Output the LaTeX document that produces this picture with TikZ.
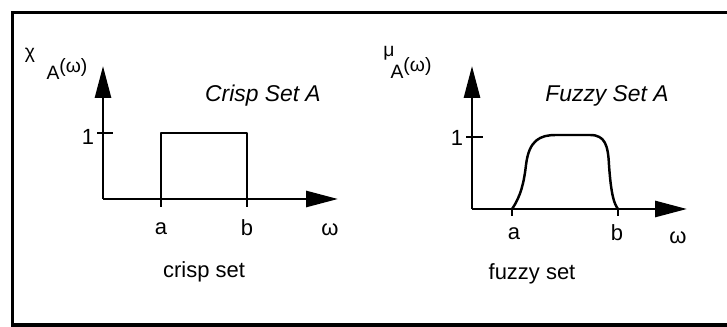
\documentclass[tikz,border=0pt]{standalone}
\usepackage{fontspec}
\setmainfont{Liberation Sans}
\usetikzlibrary{arrows.meta}

\begin{document}
\begin{tikzpicture}[
  x=0.02cm, y=-0.02cm,
  every node/.style={font=\fontsize{12.5}{14}\selectfont, inner sep=1pt},
  frame/.style={draw, line width=2.2pt},
  axis/.style={draw, line width=1.6pt, -{Triangle[length=0.64cm, width=0.32cm]}},
  member/.style={draw, line width=1.4pt, line join=round},
  tick/.style={draw, line width=1.4pt},
  title/.style={font=\fontsize{13}{15}\selectfont\itshape},
  sub/.style={font=\fontsize{11}{12}\selectfont}
]

\useasboundingbox (0,0) rectangle (727,327);
\draw[frame] (727,12.5) -- (12.5,12.5) -- (12.5,325) -- (727,325);

% crisp set
\coordinate (co) at (103,199);
\coordinate (cy) at (103,66);
\coordinate (cx) at (338,199);
\coordinate (ca) at (161,207);
\coordinate (cb) at (247,207);
\draw[axis] (co) -- (cy);
\draw[axis] (co) -- (cx);
\draw[member] (ca) -- (161,133) -- (247,133) -- (cb);
\draw[tick] (97,133) -- (113,133);

\node (cone) at (88,137) {1};
\node[sub] (cchi) at (30,55) {χ};
\node[sub] (cfun) at (67,69) {A\raisebox{0.6ex}{(ω)}};
\node[title] (ctitle) at (263,96) {Crisp Set A};
\node (cla) at (161,229) {a};
\node (clb) at (247,228) {b};
\node (clw) at (330,230) {ω};
\node (ccap) at (204,272) {crisp set};

% fuzzy set
\coordinate (fo) at (472,209);
\coordinate (fy) at (472,66);
\coordinate (fx) at (687,209);
\coordinate (fa) at (512,209);
\coordinate (fb) at (618,209);
\draw[axis] (fo) -- (fy);
\draw[axis] (fo) -- (fx);
\draw[member] (fa) .. controls (521,196) and (524,182) .. (526,165)
  .. controls (529,140) and (540,135) .. (556,135) -- (590,135)
  .. controls (605,135) and (608,145) .. (609,165)
  .. controls (611,194) and (614,204) .. (fb);
\draw[tick] (fa) -- ++(0,7);
\draw[tick] (fb) -- ++(0,7);
\draw[tick] (466,137) -- (483,137);

\node (fone) at (457,138) {1};
\node[sub] (fmu) at (389,53) {μ};
\node[sub] (ffun) at (411,68) {A\raisebox{0.6ex}{(ω)}};
\node[title] (ftitle) at (607,96) {Fuzzy Set A};
\node (fla) at (514,234) {a};
\node (flb) at (617,233) {b};
\node (flw) at (678,238) {ω};
\node (fcap) at (532,274) {fuzzy set};

\end{tikzpicture}
\end{document}
